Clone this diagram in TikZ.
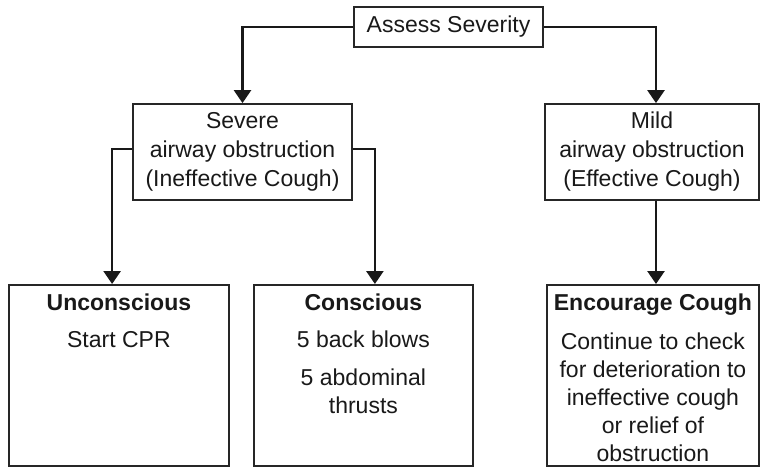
\documentclass[tikz,border=0pt]{standalone}
\usepackage{fontspec}
\setmainfont{Liberation Sans}
\usetikzlibrary{arrows.meta}
\tikzset{>={Triangle[width=8.5pt,length=6.5pt]}}
\tikzset{
	box/.style={draw=black!85, line width=0.9pt, inner sep=0pt, align=center, text=black!90, font=\fontsize{11.5}{14.5}\selectfont},
	conn/.style={->, line width=1.3pt, draw=black!90}
}
\newcommand{\tallbox}[2]{\parbox[c][90.5pt][t]{#1}{\centering\fontsize{11.5}{14}\selectfont\vspace*{4.5pt}#2}}

\begin{document}
\begin{tikzpicture}[x=0.5pt, y=-0.5pt]
	\useasboundingbox (0,0) rectangle (760,467);
	\node (assess) at (448.5,27) [box, minimum width=94.5pt, minimum height=20pt] {Assess Severity};
	\node (severe) at (242.5,152) [box, minimum width=109.5pt, minimum height=48pt] {Severe\\airway obstruction\\(Ineffective Cough)};
	\node (mild) at (652,152) [box, minimum width=107pt, minimum height=48pt] {Mild\\airway obstruction\\(Effective Cough)};
	\node (uncon) at (8,284) [box, anchor=north west] {\tallbox{110pt}{\textbf{Unconscious}\\[4.5pt]Start CPR}};
	\node (consc) at (253,284) [box, anchor=north west] {\tallbox{109.5pt}{\textbf{Conscious}\\[4.5pt]5 back blows\\[5pt]5 abdominal\\thrusts}};
	\node (cough) at (546,284) [box, anchor=north west] {\tallbox{106pt}{\textbf{Encourage Cough}\\[5.5pt]Continue to check\\for deterioration to\\ineffective cough\\or relief of\\obstruction}};
	\draw [conn] (assess.west) -| (severe.north);
	\draw [conn] (assess.east) -| ([xshift=2pt]mild.north);
	\draw [conn] ([yshift=1.5pt]severe.west) -- ++(-20,0) coordinate (sl) -- (sl |- uncon.north);
	\draw [conn] ([yshift=1.5pt]severe.east) -- ++(22,0) coordinate (sr) -- (sr |- consc.north);
	\draw [conn] ([xshift=2pt]mild.south) -- ([xshift=2pt]mild.south |- cough.north);
\end{tikzpicture}
\end{document}
